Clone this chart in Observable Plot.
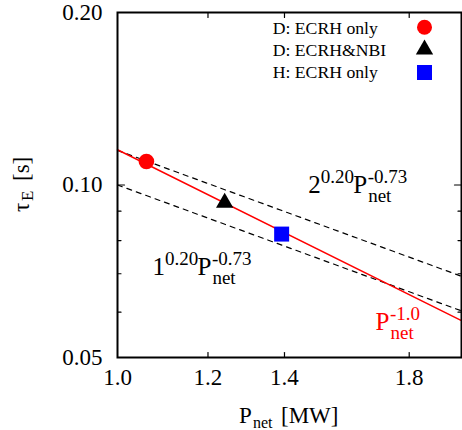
<!DOCTYPE html>
<html><head><meta charset="utf-8">
<script src="https://cdn.jsdelivr.net/npm/d3@7"></script>
<script src="https://cdn.jsdelivr.net/npm/@observablehq/plot@0.6"></script>
<style>
body{margin:0;background:#fff}
#chart svg{display:block}
</style>
</head><body><div id="chart"></div>
<script>
// ---- data ----
const xTicks = [1.0, 1.2, 1.4, 1.8];
const yTicks = [0.05, 0.10, 0.20];
const yMinorTicks = [0.06, 0.07, 0.08, 0.09];
const seriesNames = ["D: ECRH only", "D: ECRH&NBI", "H: ECRH only"];
const seriesSymbols = ["circle", "triangle", "square"];
const seriesColors = ["#ff0000", "#000000", "#0000ff"];
const pNet = [1.06, 1.241, 1.392];
const tauE = [0.1099, 0.0931, 0.0821];
// fitted lines (end points in P_net, tau_E)
const linePnet = [1.0, 2.0];
const lineRedTau = [0.1152, 0.0580];   // P_net^-1.0
const lineD2Tau = [0.1149, 0.0693];    // 2^0.20 P_net^-0.73
const lineH1Tau = [0.1000, 0.0603];    // 1^0.20 P_net^-0.73
// annotations: pieces and anchor (data coords of left edge / baseline)
const annotBase = ["2", "1", ""];
const annotBaseExp = ["0.20", "0.20", ""];
const annotExp = ["-0.73", "-0.73", "-1.0"];
const annotPnet = [1.4700, 1.0740, 1.6837];
const annotTau = [0.0966, 0.0695, 0.0557];
const annotColor = ["black", "black", "#ff0000"];

// ---- build tables ----
const points = pNet.map((p, i) => ({p, tau: tauE[i], name: seriesNames[i]}));
const mk = arr => linePnet.map((p, i) => ({p, tau: arr[i]}));
const redLine = mk(lineRedTau), d2Line = mk(lineD2Tau), h1Line = mk(lineH1Tau);

const W = 462, H = 430;
const serif = "'Liberation Serif','Times New Roman',Times,serif";
const tickShape = {draw(ctx, l) { ctx.moveTo(0, 0); ctx.lineTo(0, -l); }};
const tickOpts = (frameAnchor, rotate, length) => ({frameAnchor, rotate, length, anchor: "start", shape: tickShape, stroke: "black", strokeWidth: 1.2});

const chart = Plot.plot({
  width: W, height: H,
  marginLeft: 117, marginRight: 1, marginTop: 12, marginBottom: 73,
  style: {fontFamily: serif, fontSize: "23px", background: "white", color: "black", overflow: "visible"},
  x: {type: "log", domain: [1, 2], ticks: xTicks, tickFormat: ".1f", tickSize: 0, tickPadding: 11, label: null},
  y: {type: "log", domain: [0.05, 0.2], ticks: yTicks, tickFormat: ".2f", tickSize: 0, tickPadding: 15, label: null},
  marks: [
    Plot.vectorX(xTicks.slice(1), {x: d => d, ...tickOpts("bottom", 0, 5)}),
    Plot.vectorX(xTicks.slice(1), {x: d => d, ...tickOpts("top", 180, 5)}),
    Plot.vectorY([0.10], {y: d => d, ...tickOpts("left", 90, 7)}),
    Plot.vectorY([0.10], {y: d => d, ...tickOpts("right", -90, 7)}),
    Plot.vectorY(yMinorTicks, {y: d => d, ...tickOpts("left", 90, 3.5)}),
    Plot.vectorY(yMinorTicks, {y: d => d, ...tickOpts("right", -90, 3.5)}),
    Plot.line(d2Line, {x: "p", y: "tau", stroke: "black", strokeWidth: 1.2, strokeDasharray: "5,5"}),
    Plot.line(h1Line, {x: "p", y: "tau", stroke: "black", strokeWidth: 1.2, strokeDasharray: "5,5"}),
    Plot.line(redLine, {x: "p", y: "tau", stroke: "#ff0000", strokeWidth: 1.5}),
    Plot.dot(points.filter(d => d.name === seriesNames[0]), {x: "p", y: "tau", symbol: "circle", r: 7.8, fill: seriesColors[0]}),
    Plot.dot(points.filter(d => d.name === seriesNames[1]), {x: "p", y: "tau", symbol: "triangle", r: 6.43, fill: seriesColors[1]}),
    Plot.dot(points.filter(d => d.name === seriesNames[2]), {x: "p", y: "tau", symbol: "square", r: 8.46, fill: seriesColors[2]}),
    Plot.frame({stroke: "black", strokeWidth: 2})
  ]
});
document.getElementById("chart").append(chart);

const svg = d3.select(chart);
const sx = chart.scale("x"), sy = chart.scale("y");

function piece(x, y, text, size, fill, rot) {
  const t = svg.append("text").attr("font-family", serif).attr("font-size", size)
    .attr("text-anchor", "start").attr("fill", fill || "black").text(text);
  if (rot) t.attr("transform", `translate(${x},${y}) rotate(${rot})`);
  else t.attr("x", x).attr("y", y);
  return t;
}

// annotations
const AMAIN = 25, ASMALL = 19, SUP = -10, SUB = 9;
annotExp.forEach((exp, i) => {
  const x = sx.apply(annotPnet[i]), y = sy.apply(annotTau[i]), c = annotColor[i];
  let xp = x;
  if (annotBase[i]) {
    piece(x, y, annotBase[i], AMAIN, c);
    piece(x + 12.5, y + SUP, annotBaseExp[i], ASMALL, c);
    xp = x + 45;
  }
  piece(xp, y, "P", AMAIN, c);
  piece(xp + 15, y + SUB, "net", ASMALL, c);
  piece(xp + 14.5, y + SUP, exp, ASMALL, c);
});

// axis labels
piece(239, 423, "P", 23);
piece(253, 428, "net", 16);
piece(281, 423, "[MW]", 23);
piece(29, 212, "τ", 23, "black", -90);
piece(33, 201, "E", 17, "black", -90);
piece(29, 181, "[s]", 23, "black", -90);

// legend
const legRowY = [34, 56, 78];
const legSymY = [27.3, 49.5, 72.5];
const symMap = {circle: d3.symbolCircle, triangle: d3.symbolTriangle, square: d3.symbolSquare};
const symR = {circle: 7.5, triangle: 6.43, square: 8.46};
seriesNames.forEach((name, i) => {
  piece(272.7, legRowY[i], name, 17.7);
  const s = seriesSymbols[i];
  svg.append("path").attr("transform", `translate(424.5,${legSymY[i]})`)
    .attr("d", d3.symbol(symMap[s], Math.PI * symR[s] * symR[s])())
    .attr("fill", seriesColors[i]);
});
</script>
</body></html>
